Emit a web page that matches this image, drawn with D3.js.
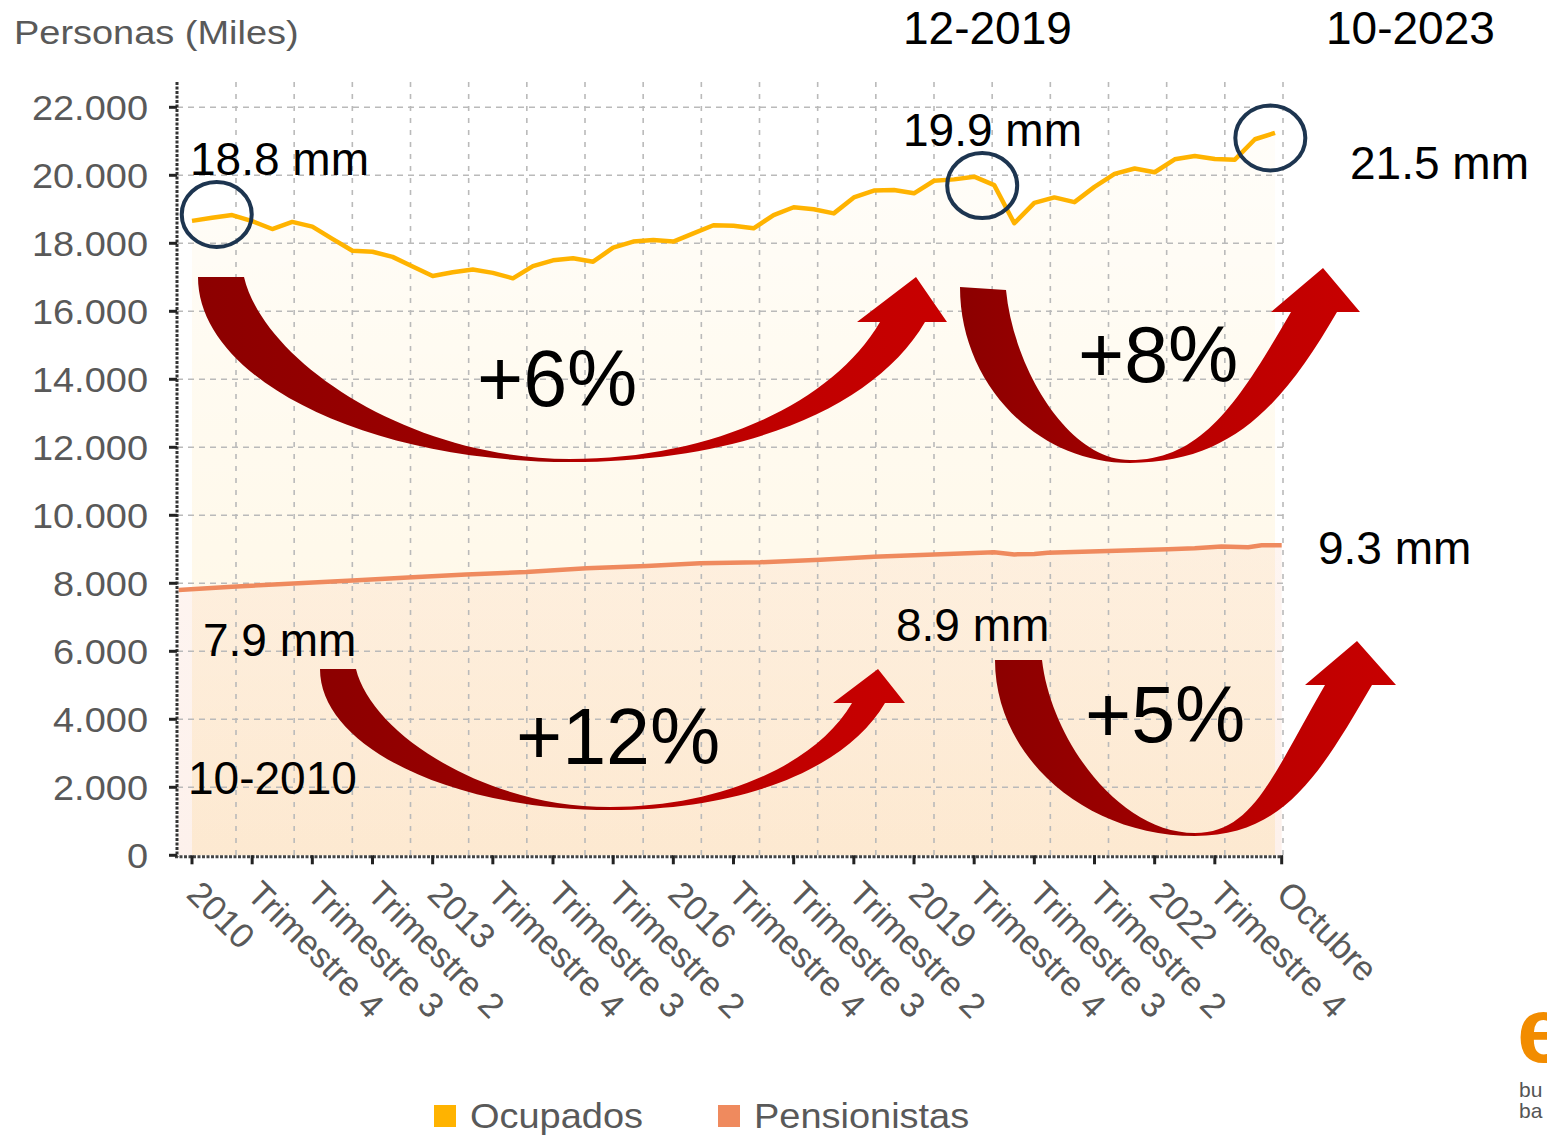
<!DOCTYPE html>
<html>
<head>
<meta charset="utf-8">
<script src="https://cdn.jsdelivr.net/npm/d3@7"></script>
<style>
    body { margin: 0; background: #fff; }
    svg { display: block; font-family: "Liberation Sans", Arial, sans-serif; }
</style>
</head>
<body>
<div id="chart"></div>
<script>

// Ocupados (miles de personas), one value per quarter starting T1 2010
let ocupados = [18660, 18750, 18830, 18650, 18420, 18630, 18490, 18130, 17780, 17750,
    17600, 17320, 17040, 17150, 17230, 17130, 16970, 17330, 17500, 17560,
    17460, 17870, 18050, 18100, 18050, 18290, 18530, 18517, 18440, 18830,
    19060, 19000, 18880, 19350, 19550, 19570, 19470, 19840, 19880, 19960,
    19710, 18590, 19190, 19350, 19210, 19660, 20040, 20200, 20090, 20470,
    20570, 20480, 20460, 21060, 21250];

// Pensionistas (miles): month index (0 = enero 2010) and value
let pensionMonths = [-2, 6, 24, 33, 41, 50, 59, 68, 76, 85, 94, 102, 111, 120, 123, 126, 128, 137, 146, 150, 154, 158, 160, 163];
let pensionValues = [7800, 7900, 8080, 8180, 8260, 8330, 8440, 8510, 8590, 8620, 8690, 8780, 8850, 8910, 8850, 8860, 8900, 8950, 9000, 9030, 9080, 9060, 9120, 9120];

// x axis
let tickMonths = [0, 9, 18, 27, 36, 45, 54, 63, 72, 81, 90, 99, 108, 117, 126, 135, 144, 153, 163];
let tickLabels = ["2010", "Trimestre 4", "Trimestre 3", "Trimestre 2", "2013", "Trimestre 4", "Trimestre 3", "Trimestre 2",
    "2016", "Trimestre 4", "Trimestre 3", "Trimestre 2", "2019", "Trimestre 4", "Trimestre 3", "Trimestre 2",
    "2022", "Trimestre 4", "Octubre"];

// y axis
let yTicks = [0, 2000, 4000, 6000, 8000, 10000, 12000, 14000, 16000, 18000, 20000, 22000];

// annotations
let labels = [
    {text: "12-2019", x: 903, y: 44},
    {text: "10-2023", x: 1326, y: 44},
    {text: "18.8 mm", x: 190, y: 175},
    {text: "19.9 mm", x: 903, y: 146},
    {text: "21.5 mm", x: 1350, y: 179},
    {text: "9.3 mm", x: 1318, y: 564},
    {text: "8.9 mm", x: 896, y: 641},
    {text: "7.9 mm", x: 203, y: 656},
    {text: "10-2010", x: 188, y: 794}
];
let pctLabels = [
    {text: "+6%", x: 477, y: 406},
    {text: "+8%", x: 1078, y: 382},
    {text: "+12%", x: 516, y: 764},
    {text: "+5%", x: 1085, y: 742}
];
// circled points, in (month, value)
let circles = [[3.7, 18850], [118.2, 19700], [161.3, 21100]];

// curved arrows: left end (outer/inner x), top y, bottom point, head
let arrows = [
    {ax: 198, aix: 244, ay: 277, aiy: 277, bx: 570, by: 462, hy: 322, sl: 880, sr: 925, bl: 857, br: 947, tx: 916, ty: 277},
    {ax: 960, aix: 1006, ay: 287, aiy: 290, bx: 1130, by: 463, hy: 312, sl: 1291, sr: 1337, bl: 1271, br: 1360, tx: 1323, ty: 268},
    {ax: 320, aix: 356, ay: 669, aiy: 669, bx: 610, by: 810, hy: 703, sl: 852, sr: 885, bl: 833, br: 905, tx: 878, ty: 669},
    {ax: 995, aix: 1042, ay: 660, aiy: 660, bx: 1195, by: 836, hy: 685, sl: 1325, sr: 1372, bl: 1305, br: 1396, tx: 1357, ty: 641}
];

let W = 1547, H = 1139;
let sx = 1.085;   // source chart text is slightly stretched
let grey = "#595959";
let ocuColor = "#ffb300", penColor = "#ef8a5e";

let svg = d3.select("#chart").append("svg")
    .attr("width", W)
    .attr("height", H);

let x = d3.scaleLinear().domain([0, 162]).range([192, 1275]);
let y = d3.scaleLinear().domain([0, 22000]).range([855.3, 107.3]);

let plotLeft = 177, plotRight = 1283, plotTop = 82, plotBottom = y(0);

// gradients
let defs = svg.append("defs");
function vGrad(id, color, o0, o1) {
    let g = defs.append("linearGradient").attr("id", id)
        .attr("gradientUnits", "userSpaceOnUse")
        .attr("x1", 0).attr("x2", 0).attr("y1", y(22000)).attr("y2", plotBottom);
    g.append("stop").attr("offset", 0).attr("stop-color", color).attr("stop-opacity", o0);
    g.append("stop").attr("offset", 1).attr("stop-color", color).attr("stop-opacity", o1);
}
vGrad("ocuGrad", ocuColor, 0.02, 0.12);
vGrad("penGrad", penColor, 0.04, 0.12);

function hGrad(id, c0, c1) {
    let g = defs.append("linearGradient").attr("id", id)
        .attr("x1", 0).attr("x2", 1).attr("y1", 0).attr("y2", 0);
    g.append("stop").attr("offset", 0).attr("stop-color", c0);
    g.append("stop").attr("offset", 1).attr("stop-color", c1);
}
hGrad("darkRed", "#8c0000", "#a30000");
hGrad("brightRed", "#b50000", "#c80000");

// areas
let ocuArea = d3.area()
    .x((d, i) => x(i * 3))
    .y0(plotBottom)
    .y1(d => y(d));
let penArea = d3.area()
    .x((d, i) => x(pensionMonths[i]))
    .y0(plotBottom)
    .y1(d => y(d));

svg.append("path").datum(ocupados).attr("d", ocuArea).attr("fill", "url(#ocuGrad)");
svg.append("path").datum(pensionValues).attr("d", penArea).attr("fill", "url(#penGrad)");

// gridlines
svg.append("g").selectAll("line")
    .data(yTicks.slice(1))
    .enter().append("line")
    .attr("x1", plotLeft).attr("x2", plotRight)
    .attr("y1", d => y(d)).attr("y2", d => y(d))
    .attr("stroke", "#bababa").attr("stroke-width", 1.6)
    .attr("stroke-dasharray", "6,5");

let gridX = d3.range(19).map(k => 236 + k * (plotRight - 236) / 18);
svg.append("g").selectAll("line")
    .data(gridX)
    .enter().append("line")
    .attr("x1", d => d).attr("x2", d => d)
    .attr("y1", plotTop).attr("y2", plotBottom)
    .attr("stroke", "#bababa").attr("stroke-width", 1.6)
    .attr("stroke-dasharray", "5,7");

// lines
let ocuLine = d3.line().x((d, i) => x(i * 3)).y(d => y(d));
let penLine = d3.line().x((d, i) => x(pensionMonths[i])).y(d => y(d));

svg.append("path").datum(pensionValues).attr("d", penLine)
    .attr("fill", "none").attr("stroke", penColor).attr("stroke-width", 4.5);
svg.append("path").datum(ocupados).attr("d", ocuLine)
    .attr("fill", "none").attr("stroke", ocuColor).attr("stroke-width", 4.5)
    .attr("stroke-linejoin", "round");

// axes
svg.append("line")
    .attr("x1", plotLeft).attr("x2", plotLeft).attr("y1", plotTop).attr("y2", plotBottom + 2)
    .attr("stroke", "#333").attr("stroke-width", 3).attr("stroke-dasharray", "3,1.5");
svg.append("line")
    .attr("x1", plotLeft - 2).attr("x2", plotRight).attr("y1", plotBottom + 1.5).attr("y2", plotBottom + 1.5)
    .attr("stroke", "#444").attr("stroke-width", 3).attr("stroke-dasharray", "3,1.5");

svg.append("g").selectAll("line")
    .data(yTicks)
    .enter().append("line")
    .attr("x1", plotLeft - 8).attr("x2", plotLeft)
    .attr("y1", d => y(d)).attr("y2", d => y(d))
    .attr("stroke", "#222").attr("stroke-width", 3);

let fmt = d3.formatLocale({decimal: ",", thousands: ".", grouping: [3], currency: ["", "€"]}).format(",");
svg.append("g").selectAll("text")
    .data(yTicks)
    .enter().append("text")
    .attr("transform", d => "translate(148," + y(d) + ") scale(" + sx + ",1)")
    .attr("dy", "0.36em")
    .attr("text-anchor", "end")
    .attr("font-size", 35)
    .attr("fill", grey)
    .text(d => fmt(d));

svg.append("g").selectAll("line")
    .data(tickMonths)
    .enter().append("line")
    .attr("x1", d => x(d)).attr("x2", d => x(d))
    .attr("y1", plotBottom).attr("y2", plotBottom + 9)
    .attr("stroke", "#222").attr("stroke-width", 3);

svg.append("g").selectAll("text")
    .data(tickMonths)
    .enter().append("text")
    .attr("transform", d => "translate(" + (x(d) - 7) + ",896) rotate(45)")
    .attr("font-size", 35)
    .attr("fill", grey)
    .text((d, i) => tickLabels[i]);

svg.append("text")
    .attr("transform", "translate(14,44) scale(1.15,1)")
    .attr("font-size", 33)
    .attr("fill", grey)
    .text("Personas (Miles)");

// legend
let legend = [{name: "Ocupados", color: ocuColor, x: 434}, {name: "Pensionistas", color: penColor, x: 718}];
let lg = svg.append("g").selectAll("g").data(legend).enter().append("g");
lg.append("rect")
    .attr("x", d => d.x).attr("y", 1105).attr("width", 22).attr("height", 22)
    .attr("fill", d => d.color);
lg.append("text")
    .attr("transform", d => "translate(" + (d.x + 36) + ",1128) scale(" + sx + ",1)")
    .attr("font-size", 35)
    .attr("fill", grey)
    .text(d => d.name);

// curved arrows
function darkPath(a) {
    let ox = a.ax, oy = a.ay, ix = a.aix, iy = a.aiy;
    let p = d3.path();
    p.moveTo(ox, oy);
    p.bezierCurveTo(ox, oy + 0.55 * (a.by - oy), ox + 0.45 * (a.bx - ox), a.by, a.bx, a.by);
    p.lineTo(a.bx, a.by - 3);
    p.bezierCurveTo(ix + 0.5 * (a.bx - ix), a.by - 3, ix + 0.06 * (a.bx - ix), iy + 0.45 * (a.by - iy), ix, iy);
    p.closePath();
    return p.toString();
}
function brightPath(a) {
    let h = a.by - a.hy;
    let p = d3.path();
    p.moveTo(a.bx, a.by);
    p.bezierCurveTo(a.bx + 0.5 * (a.sr - a.bx), a.by, a.sr - 0.35 * h, a.hy + 0.6 * h, a.sr, a.hy);
    p.lineTo(a.br, a.hy);
    p.lineTo(a.tx, a.ty);
    p.lineTo(a.bl, a.hy);
    p.lineTo(a.sl, a.hy);
    p.bezierCurveTo(a.sl - 0.35 * (h - 3), a.hy + 0.6 * (h - 3), a.bx + 0.45 * (a.sl - a.bx), a.by - 3, a.bx, a.by - 3);
    p.closePath();
    return p.toString();
}

let ag = svg.append("g").selectAll("g").data(arrows).enter().append("g");
ag.append("path").attr("d", darkPath).attr("fill", "url(#darkRed)");
ag.append("path").attr("d", brightPath).attr("fill", "url(#brightRed)");

// circles
svg.append("g").selectAll("ellipse")
    .data(circles)
    .enter().append("ellipse")
    .attr("cx", d => x(d[0])).attr("cy", d => y(d[1]))
    .attr("rx", 35).attr("ry", 32.5)
    .attr("fill", "none").attr("stroke", "#1d3550").attr("stroke-width", 4);

// text annotations
svg.append("g").selectAll("text")
    .data(labels)
    .enter().append("text")
    .attr("x", d => d.x).attr("y", d => d.y)
    .attr("font-size", 46)
    .attr("fill", "#000")
    .text(d => d.text);

svg.append("g").selectAll("text")
    .data(pctLabels)
    .enter().append("text")
    .attr("x", d => d.x).attr("y", d => d.y)
    .attr("font-size", 79)
    .attr("fill", "#000")
    .text(d => d.text);

// logo corner (cut by the page edge, as in the source slide)
svg.append("text").attr("x", 1517).attr("y", 1062)
    .attr("font-size", 92).attr("font-weight", "bold").attr("fill", "#f28c00").text("e");
svg.append("text").attr("x", 1519).attr("y", 1097)
    .attr("font-size", 21).attr("fill", "#555").text("bu");
svg.append("text").attr("x", 1519).attr("y", 1118)
    .attr("font-size", 21).attr("fill", "#555").text("ba");

</script>
</body>
</html>
